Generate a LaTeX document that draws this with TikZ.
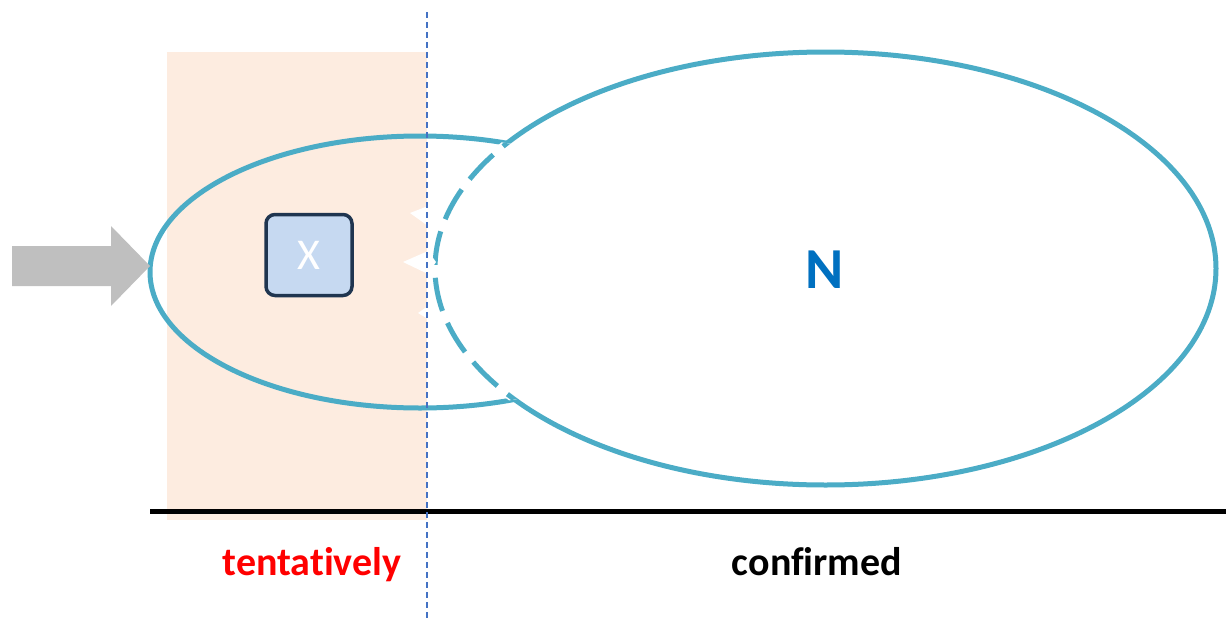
\documentclass[tikz,border=0pt]{standalone}
\usepackage{fontspec}
\setmainfont[Ligatures={NoCommon}]{Carlito}
\usetikzlibrary{shapes.geometric}
\definecolor{teal}{RGB}{75,172,198}
\definecolor{peach}{RGB}{253,236,224}
\definecolor{xfill}{RGB}{198,217,241}
\definecolor{navy}{RGB}{31,53,80}
\definecolor{nblue}{RGB}{0,112,192}
\definecolor{vline}{RGB}{68,114,196}
\definecolor{arrowgray}{RGB}{191,191,191}
\tikzset{
  ring/.style={draw=teal, line width=5pt},
  label/.style={font=\bfseries\fontsize{40}{40}\selectfont, anchor=base},
}
\begin{document}
\begin{tikzpicture}[x=1pt,y=-1pt,line join=round]
\useasboundingbox (0,0) rectangle (1226,621);
% shaded tentative region
\fill[peach] (167,52) rectangle (427,520);
% small ellipse
\node[ellipse, ring, minimum width=540pt, minimum height=272pt, inner sep=0pt] (small) at (420,272) {};
% big ellipse
\node[ellipse, ring, fill=white, minimum width=781pt, minimum height=433pt, inner sep=0pt] (big) at (825.5,268.5) {};
\begin{scope}
  \clip (420,272) ellipse [x radius=270, y radius=136];
  \draw[white, line width=8pt] (825.5,268.5) ellipse [x radius=390.5, y radius=216.5];
  \fill[white] (825.5,268.5) ellipse [x radius=390.5, y radius=216.5];
  \draw[teal, line width=5pt, dash pattern=on 34pt off 13pt, dash phase=10pt] (825.5,268.5) ellipse [x radius=390.5, y radius=216.5];
\end{scope}
% white wedges
\fill[white] (410,213) -- (428,206) -- (436,214) -- (428,226) -- cycle;
\fill[white] (403,262) -- (428,251) -- (436,262) -- (428,274) -- cycle;
\fill[white] (418,313) -- (428,306) -- (438,312) -- (428,319) -- cycle;
% arrow
\fill[arrowgray] (12,246) -- (111,246) -- (111,226) -- (150,266) -- (111,306) -- (111,286) -- (12,286) -- cycle;
% X box
\node[rounded corners=9pt, fill=xfill, draw=navy, line width=3.5pt, minimum width=86pt, minimum height=81pt, text=white, font=\fontsize{44}{44}\selectfont] (x) at (309,255) {X};
% N
\node[text=nblue, font=\bfseries\fontsize{58}{58}\selectfont] (n) at (825,270) {N};
% baseline
\draw[line width=5pt] (150,511) -- (1226,511);
% labels
\node[label, text=red] (tent) at (312,575) {tentatively};
\node[label, text=black] (conf) at (817,575) {confirmed};
% vertical dashed divider
\draw[vline, line width=1.4pt, dash pattern=on 6pt off 4pt] (427,12) -- (427,621);
\end{tikzpicture}
\end{document}
